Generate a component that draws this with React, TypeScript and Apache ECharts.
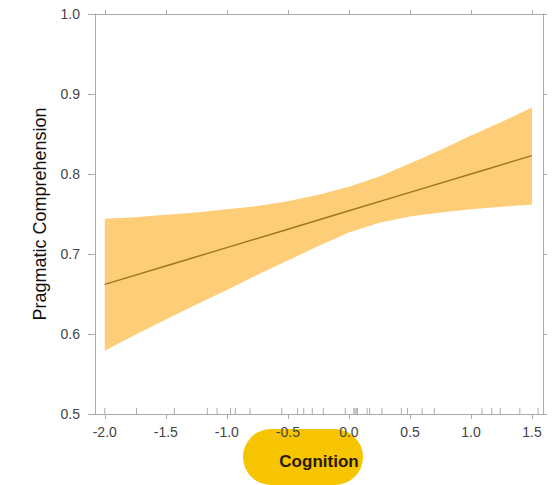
import React, { useEffect, useRef } from "react";
import * as echarts from "echarts";

const xValues = [-2.0, -1.5, -1.0, -0.5, 0.0, 0.5, 1.0, 1.5];
const fitValues = [0.662, 0.685, 0.708, 0.731, 0.754, 0.777, 0.8, 0.823];
const bandX = [-2.0, -1.75, -1.5, -1.25, -1.0, -0.75, -0.5, -0.25, 0.0, 0.25, 0.5, 0.75, 1.0, 1.25, 1.5];
const lowerValues = [0.579, 0.599, 0.618, 0.637, 0.655, 0.674, 0.692, 0.71, 0.727, 0.739, 0.747, 0.752, 0.756, 0.759, 0.762];
const upperValues = [0.744, 0.746, 0.749, 0.752, 0.756, 0.76, 0.766, 0.774, 0.784, 0.797, 0.813, 0.83, 0.848, 0.865, 0.883];
const rugValues = [
  -2.0, -1.74, -1.43, -1.16, -1.08, -0.97, -0.93, -0.81, -0.55, -0.42, -0.37,
  -0.3, -0.21, -0.03, 0.04, 0.05, 0.06, 0.07, 0.15, 0.17, 0.27, 0.43, 0.48,
  0.6, 0.7, 1.09, 1.17, 1.24, 1.4, 1.55,
];
const xTickValues = [-2.0, -1.5, -1.0, -0.5, 0.0, 0.5, 1.0, 1.5];
const xTitle = "Cognition";
const yTitle = "Pragmatic Comprehension";

export default function App() {
  const ref = useRef<HTMLDivElement>(null);
  useEffect(() => {
    if (!ref.current) return;
    const chart = echarts.init(ref.current, null, { renderer: "svg" });
    const axisGray = "#aaaaaa";
    const labelStyle = {
      color: "#444444",
      fontSize: 14,
      fontFamily: "Liberation Sans",
    };
    chart.setOption({
      animation: false,
      backgroundColor: "#ffffff",
      grid: { left: 95, right: 12, top: 14, bottom: 71 },
      graphic: [
        {
          type: "rect",
          z: -10,
          shape: { x: 243, y: 429, width: 120, height: 56, r: 28 },
          style: { fill: "#F6C400" },
        },
      ],
      xAxis: [
        {
          type: "value",
          min: -2.08,
          max: 1.59,
          position: "bottom",
          name: xTitle,
          nameLocation: "middle",
          nameGap: 39,
          nameTextStyle: {
            color: "#2a1a00",
            fontSize: 17,
            fontWeight: "bold",
            fontFamily: "Liberation Sans",
          },
          axisLine: { show: true, onZero: false, lineStyle: { color: axisGray, width: 1 } },
          axisTick: {
            show: true,
            length: 5,
            customValues: xTickValues,
            lineStyle: { color: axisGray },
          },
          axisLabel: {
            ...labelStyle,
            margin: 11,
            customValues: xTickValues,
            formatter: (v: number) => v.toFixed(1),
          },
          splitLine: { show: false },
        },
        {
          type: "value",
          min: -2.08,
          max: 1.59,
          position: "top",
          axisLine: { show: true, onZero: false, lineStyle: { color: axisGray, width: 1 } },
          axisTick: {
            show: true,
            length: 4,
            customValues: xTickValues,
            lineStyle: { color: axisGray },
          },
          axisLabel: { show: false },
          splitLine: { show: false },
        },
      ],
      yAxis: [
        {
          type: "value",
          min: 0.5,
          max: 1.0,
          interval: 0.1,
          position: "left",
          name: yTitle,
          nameLocation: "middle",
          nameRotate: 90,
          nameGap: 46,
          nameTextStyle: {
            color: "#111111",
            fontSize: 18,
            fontFamily: "Liberation Sans",
          },
          axisLine: { show: true, onZero: false, lineStyle: { color: axisGray, width: 1 } },
          axisTick: { show: true, length: 7, lineStyle: { color: axisGray } },
          axisLabel: {
            ...labelStyle,
            margin: 15,
            formatter: (v: number) => v.toFixed(1),
          },
          splitLine: { show: false },
        },
        {
          type: "value",
          min: 0.5,
          max: 1.0,
          interval: 0.1,
          position: "right",
          axisLine: { show: true, onZero: false, lineStyle: { color: axisGray, width: 1 } },
          axisTick: { show: true, length: 4, lineStyle: { color: axisGray } },
          axisLabel: { show: false },
          splitLine: { show: false },
        },
      ],
      series: [
        {
          type: "custom",
          name: "band",
          coordinateSystem: "cartesian2d",
          xAxisIndex: 0,
          yAxisIndex: 0,
          silent: true,
          data: bandX.map((x, i) => [x, lowerValues[i], upperValues[i]]),
          encode: { x: 0, y: [1, 2] },
          renderItem: (params: any, api: any) => {
            if (params.dataIndex !== 0) return null;
            const top = bandX.map((x, i) => api.coord([x, upperValues[i]]));
            const bottom = bandX
              .map((x, i) => api.coord([x, lowerValues[i]]))
              .reverse();
            return {
              type: "polygon",
              shape: { points: top.concat(bottom) },
              style: { fill: "#FDCD78", stroke: "none" },
            };
          },
          z: 1,
        },
        {
          type: "line",
          name: "fit",
          symbol: "none",
          lineStyle: { color: "#9C7A1E", width: 1.5 },
          data: xValues.map((x, i) => [x, fitValues[i]]),
          z: 5,
        },
        {
          type: "scatter",
          name: "rug",
          symbol: "rect",
          symbolSize: [1, 6],
          symbolOffset: [0, -3],
          itemStyle: { color: "#999999" },
          data: rugValues.map((v) => [v, 0.5]),
          clip: false,
          z: 6,
        },
      ],
    });
    return () => chart.dispose();
  }, []);
  return <div ref={ref} style={{ width: 555, height: 485, position: "absolute", left: 0, top: 0 }} />;
}
